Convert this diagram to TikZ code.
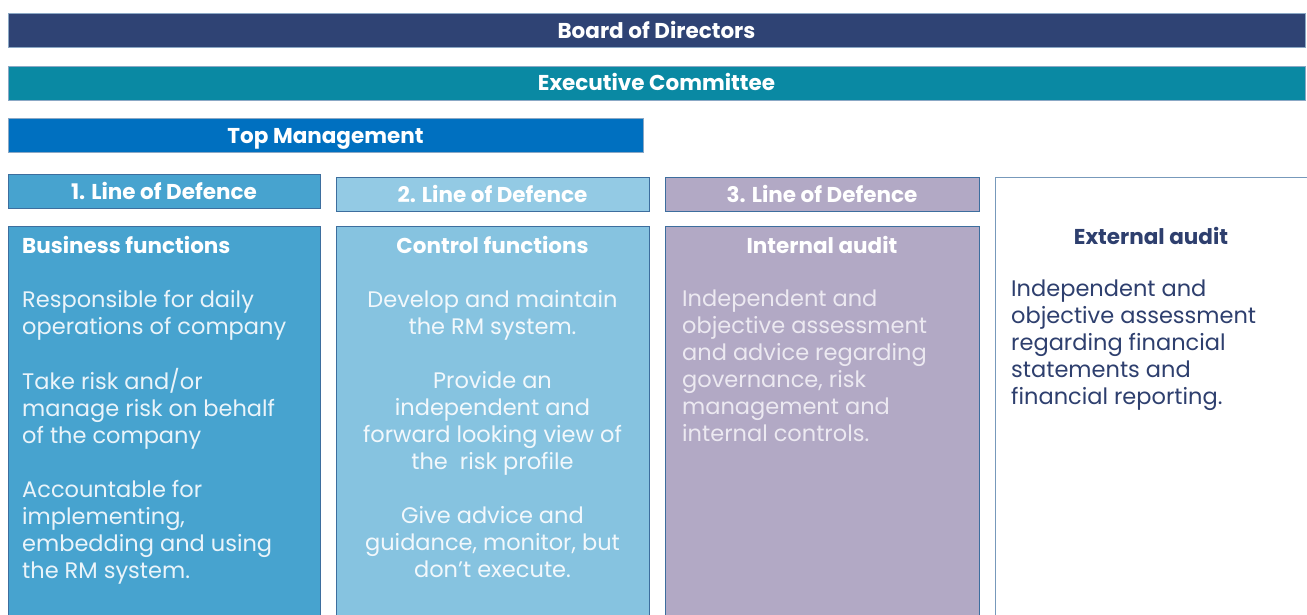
\documentclass[tikz,border=0pt]{standalone}
\usepackage{fontspec}
\setmainfont{Poppins}
\definecolor{board}{HTML}{2F4374}
\definecolor{exec}{HTML}{0A89A3}
\definecolor{topm}{HTML}{0070C0}
\definecolor{lineone}{HTML}{47A3CF}
\definecolor{linetwo}{HTML}{93CAE4}
\definecolor{boxtwo}{HTML}{86C3E0}
\definecolor{linethree}{HTML}{B2A9C5}
\definecolor{navy}{HTML}{2E3F6E}
\definecolor{edge}{HTML}{3D6E9E}
\definecolor{txtone}{HTML}{EAF4FA}
\definecolor{txttwo}{HTML}{F2F8FC}
\definecolor{txtthree}{HTML}{ECE9F1}
\begin{document}
\begin{tikzpicture}[x=1pt,y=-1pt,
  bar/.style={draw=edge!60, line width=1pt, minimum height=34pt, inner sep=0pt, text=white,
    text height=19.4pt, text depth=4pt,
    font=\fontsize{21.5}{25}\selectfont\bfseries},
  colbox/.style={draw=edge, line width=1pt, inner sep=0pt, anchor=north west},
  ttl/.style={font=\fontsize{21.5}{25}\selectfont\bfseries, inner sep=0pt},
  body/.style={font=\fontsize{22.5}{27}\selectfont, inner sep=0pt, anchor=north west, align=left}
]
\useasboundingbox (0,0) rectangle (1307,614);
% top bars
\node[bar, fill=board, minimum width=1297pt] (board) at (656.5,30.5) {Board of Directors};
\node[bar, fill=exec, minimum width=1297pt] (exec) at (656.5,83) {Executive Committee};
\node[bar, fill=topm, minimum width=635pt] (top) at (325.5,135.5) {Top Management};
% line headers
\node[bar, fill=lineone, minimum width=312pt, draw=edge] (l1) at (164,191.5) {1. Line of Defence};
\node[bar, fill=linetwo, minimum width=313pt, draw=edge] (l2) at (492.5,194.5) {2. Line of Defence};
\node[bar, fill=linethree, minimum width=314pt, draw=edge] (l3) at (822,194.5) {3. Line of Defence};
% column boxes
\node[colbox, fill=lineone, minimum width=312pt, minimum height=400pt] (b1) at (8,226) {};
\node[colbox, fill=boxtwo, minimum width=313pt, minimum height=400pt] (b2) at (336,226) {};
\node[colbox, fill=linethree, minimum width=314pt, minimum height=400pt] (b3) at (665,226) {};
\node[colbox, fill=white, draw=edge!70, minimum width=320pt, minimum height=450pt] (b4) at (995,177) {};
% titles
\node[ttl, text=white, anchor=west] (t1) at (22,245) {Business functions};
\node[ttl, text=white] (t2) at (492.5,245) {Control functions};
\node[ttl, text=white] (t3) at (822,245) {Internal audit};
\node[ttl, text=navy] (t4) at (1151,236) {External audit};
% bodies
\node[body, text=txtone] (x1) at (22,290) {Responsible for daily\\operations of company\\[27pt]Take risk and/or\\manage risk on behalf\\of the company\\[27pt]Accountable for\\implementing,\\embedding and using\\the RM system.};
\node[body, text=txttwo, anchor=north, align=center] (x2) at (492.5,290) {Develop and maintain\\the RM system.\\[27pt]Provide an\\independent and\\forward looking view of\\the~ risk profile\\[27pt]Give advice and\\guidance, monitor, but\\don’t execute.};
\node[body, text=txtthree] (x3) at (682,290) {Independent and\\objective assessment\\and advice regarding\\governance, risk\\management and\\internal controls.};
\node[body, text=navy] (x4) at (1011,280) {Independent and\\objective assessment\\regarding financial\\statements and\\financial reporting.};
\end{tikzpicture}
\end{document}
